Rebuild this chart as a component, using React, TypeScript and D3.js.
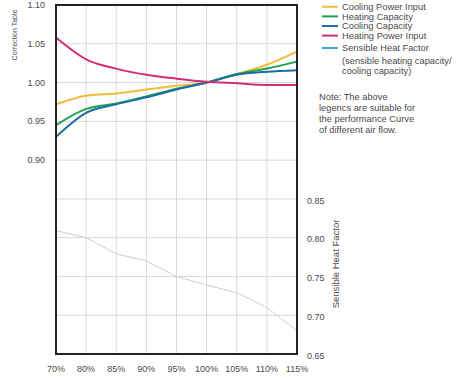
import React from "react";
import * as d3 from "d3";

const categories = ["70%", "80%", "85%", "90%", "95%", "100%", "105%", "110%", "115%"];
const coolingPowerInput = [0.972, 0.983, 0.986, 0.991, 0.996, 1.0, 1.011, 1.023, 1.04];
const heatingCapacity = [0.945, 0.966, 0.973, 0.982, 0.992, 1.0, 1.011, 1.018, 1.027];
const coolingCapacity = [0.93, 0.961, 0.972, 0.981, 0.991, 1.0, 1.01, 1.014, 1.016];
const heatingPowerInput = [1.058, 1.03, 1.018, 1.01, 1.005, 1.001, 0.999, 0.997, 0.997];
const sensibleHeatFactor = [0.809, 0.8, 0.779, 0.77, 0.75, 0.739, 0.729, 0.71, 0.68];
const leftTicks = [0.9, 0.95, 1.0, 1.05, 1.1];
const rightTicks = [0.65, 0.7, 0.75, 0.8, 0.85];
const gridTicks = [0.65, 0.7, 0.75, 0.8, 0.85, 0.9, 0.95, 1.0, 1.05, 1.1];

const legendItems = [
  { label: "Cooling Power Input", color: "#f0bd3c" },
  { label: "Heating Capacity", color: "#22a052" },
  { label: "Cooling Capacity", color: "#1b6ea6" },
  { label: "Heating Power Input", color: "#d42c7a" },
  { label: "Sensible Heat Factor", color: "#3aa9dd" },
];
const noteLines = ["Note: The above", "legencs are suitable for", "the performance Curve", "of different air flow."];

export default function App() {
  const W = 461, H = 379;
  const L = 56, R = 297, T = 5, B = 354;
  const x = d3.scalePoint<string>().domain(categories).range([L, R]);
  const y = d3.scaleLinear().domain([0.65, 1.1]).range([B, T]);
  const smooth = d3.line<number>().x((_, i) => x(categories[i]) as number).y((d) => y(d)).curve(d3.curveMonotoneX);
  const straight = d3.line<number>().x((_, i) => x(categories[i]) as number).y((d) => y(d));
  const font = "Liberation Sans, Arial, sans-serif";
  const series = [
    { data: coolingPowerInput, color: legendItems[0].color },
    { data: heatingCapacity, color: legendItems[1].color },
    { data: coolingCapacity, color: legendItems[2].color },
    { data: heatingPowerInput, color: legendItems[3].color },
  ];
  const legendY = [6.8, 16.4, 26, 35.6, 48];
  const txt = "#4a4a4a";
  return (
    <svg width={W} height={H} style={{ position: "absolute", left: 0, top: 0, background: "#fff" }} fontFamily={font}>
      {categories.map((c) => (
        <line key={c} x1={x(c)} x2={x(c)} y1={T} y2={B} stroke="#d8d8d8" strokeWidth={1} />
      ))}
      {gridTicks.map((t) => (
        <line key={t} x1={L} x2={R} y1={y(t)} y2={y(t)} stroke="#d8d8d8" strokeWidth={1} />
      ))}
      <path d={straight(sensibleHeatFactor) || ""} fill="none" stroke="#cfcfcf" strokeWidth={1} />
      {series.map((s, i) => (
        <path key={i} d={smooth(s.data) || ""} fill="none" stroke={s.color} strokeWidth={2} />
      ))}
      <rect x={L} y={T} width={R - L} height={B - T} fill="none" stroke="#222" strokeWidth={2} />
      {leftTicks.map((t) => (
        <text key={t} x={45} y={y(t)} dy="0.35em" textAnchor="end" fontSize={9} fill={txt}>
          {t.toFixed(2)}
        </text>
      ))}
      {rightTicks.map((t) => (
        <text key={t} x={307} y={y(t) + 1.5} dy="0.35em" textAnchor="start" fontSize={9} fill={txt}>
          {t.toFixed(2)}
        </text>
      ))}
      {categories.map((c) => (
        <text key={c} x={x(c)} y={369} dy="0.35em" textAnchor="middle" fontSize={9} fill={txt}>
          {c}
        </text>
      ))}
      <text transform="translate(15,35) rotate(-90)" textAnchor="middle" dy="0.35em" fontSize={7} fill={txt}>
        Correction Table
      </text>
      <text transform="translate(336,264) rotate(-90)" textAnchor="middle" dy="0.35em" fontSize={9.5} fill={txt}>
        Sensible Heat Factor
      </text>
      {legendItems.map((it, i) => (
        <g key={it.label}>
          <line x1={322} x2={338} y1={legendY[i]} y2={legendY[i]} stroke={it.color} strokeWidth={2} />
          <text x={342} y={legendY[i]} dy="0.35em" fontSize={9.3} fill={txt}>
            {it.label}
          </text>
        </g>
      ))}
      <text x={342} y={60.3} dy="0.35em" fontSize={9.3} fill={txt}>(sensible heating capacity/</text>
      <text x={342} y={71} dy="0.35em" fontSize={9.3} fill={txt}>cooling capacity)</text>
      {noteLines.map((n, i) => (
        <text key={n} x={319} y={96.7 + i * 11.1} dy="0.35em" fontSize={9.3} fill={txt}>
          {n}
        </text>
      ))}
    </svg>
  );
}
